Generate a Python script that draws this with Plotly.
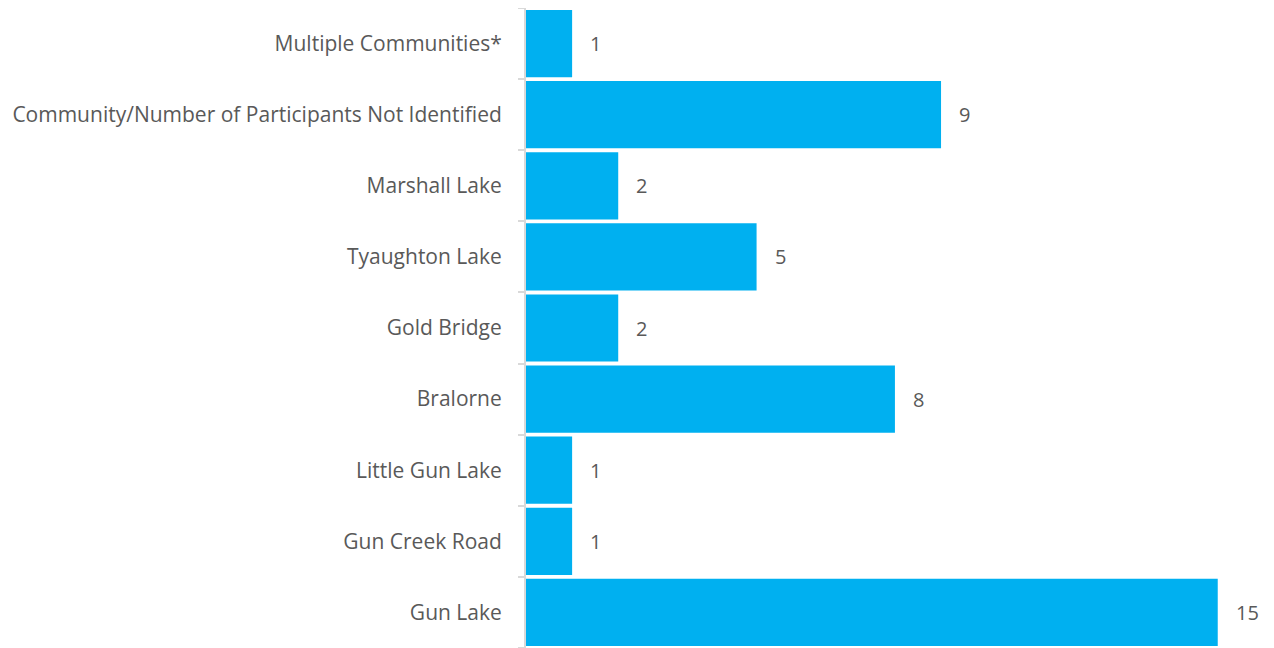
import plotly.graph_objects as go

categories = ["Gun Lake", "Gun Creek Road", "Little Gun Lake", "Bralorne", "Gold Bridge",
              "Tyaughton Lake", "Marshall Lake",
              "Community/Number of Participants Not Identified", "Multiple Communities*"]
values = [15, 1, 1, 8, 2, 5, 2, 9, 1]

bar_color = "#00B0F0"
text_color = "#595959"
font_family = "Open Sans"

fig = go.Figure(go.Bar(
    y=categories, x=values, orientation="h",
    marker=dict(color=bar_color, line=dict(width=0)),
    hoverinfo="skip",
))

for c, v in zip(categories, values):
    fig.add_annotation(x=v, y=c, text=str(v), showarrow=False, xanchor="left",
                       xshift=16, font=dict(family=font_family, size=20, color=text_color))

fig.update_layout(
    width=1266, height=640,
    margin=dict(l=518, r=0, t=0, b=0),
    plot_bgcolor="white", paper_bgcolor="white",
    bargap=0.055,
    showlegend=False,
    font=dict(family=font_family, size=21, color=text_color),
)
fig.update_xaxes(range=[0, 16.22], visible=False, showgrid=False, zeroline=False,
                 automargin=False)
fig.update_yaxes(
    type="category", categoryorder="array", categoryarray=categories,
    range=[-0.5, 8.5], automargin=False,
    showline=True, linecolor="#D9D9D9", linewidth=2,
    ticks="outside", tickson="boundaries", ticklen=6, tickcolor="#D9D9D9", tickwidth=2,
    ticklabelstandoff=18,
    showgrid=False, zeroline=False,
    tickfont=dict(family=font_family, size=21, color=text_color),
)

fig.write_html("out.html")
